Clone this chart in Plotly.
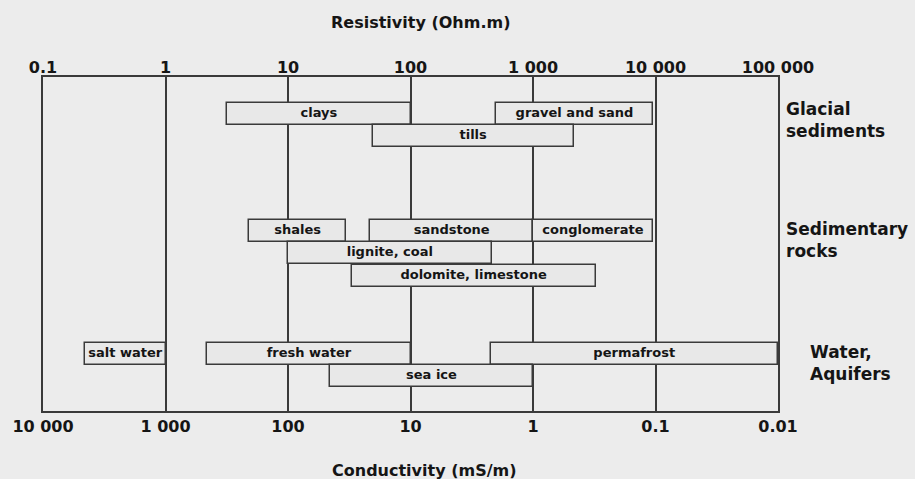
import numpy as np
import plotly.graph_objects as go

# ---------------- data ----------------
materials = ["clays", "gravel and sand", "tills",
             "shales", "sandstone", "conglomerate", "lignite, coal", "dolomite, limestone",
             "salt water", "fresh water", "permafrost", "sea ice"]
rho_min = [3.2, 500, 49, 4.8, 47, 1000, 10, 33, 0.22, 2.2, 450, 22]          # Ohm.m
rho_max = [100, 9500, 2150, 30, 1000, 9500, 460, 3250, 1, 100, 100000, 1000]  # Ohm.m
group = ["glacial", "glacial", "glacial",
         "sedimentary", "sedimentary", "sedimentary", "sedimentary", "sedimentary",
         "water", "water", "water", "water"]
row = [0, 0, 1, 0, 0, 0, 1, 2, 0, 0, 0, 1]

group_names = ["glacial", "sedimentary", "water"]
group_labels = ["Glacial<br>sediments", "Sedimentary<br>rocks", "Water,<br>Aquifers"]

res_ticks = [0.1, 1, 10, 100, 1000, 10000, 100000]
res_labels = ["0.1", "1", "10", "100", "1 000", "10 000", "100 000"]
cond_labels = ["10 000", "1 000", "100", "10", "1", "0.1", "0.01"]   # mS/m = 1000 / Ohm.m

# ---------------- layout helpers ----------------
group_top = {"glacial": 36.5, "sedimentary": 153.5, "water": 276.5}
group_label_y = {"glacial": 43, "sedimentary": 163, "water": 286}
group_label_dx = {"glacial": 6, "sedimentary": 6, "water": 30}
row_step = 22.5
bar_h = 22

lo = np.array(rho_min, dtype=float)
hi = np.array(rho_max, dtype=float)
ys = [group_top[g] + r * row_step for g, r in zip(group, row)]

FONT = "DejaVu Sans"
INK = "#151515"
LINE = "#3a3a3a"
BG = "#ececec"

fig = go.Figure()

fig.add_trace(go.Bar(
    orientation="h",
    y=ys,
    base=lo,
    x=hi - lo,
    width=bar_h,
    marker=dict(color="#e8e8e8", line=dict(color=LINE, width=1.5)),
    hoverinfo="skip",
    showlegend=False,
))

fig.add_trace(go.Scatter(
    x=np.sqrt(lo * hi),
    y=ys,
    mode="text",
    text=materials,
    textposition="middle center",
    textfont=dict(family=FONT, size=13, color=INK, weight="bold"),
    hoverinfo="skip",
    showlegend=False,
))

# invisible trace to anchor the top axis
fig.add_trace(go.Scatter(x=[1], y=[0], xaxis="x2", mode="markers",
                         marker=dict(opacity=0), hoverinfo="skip", showlegend=False))

annotations = []
for g, lab in zip(group_names, group_labels):
    annotations.append(dict(
        text=lab, xref="paper", x=1, xanchor="left", xshift=group_label_dx[g],
        yref="y", y=group_label_y[g], yanchor="middle", align="left",
        showarrow=False, font=dict(family=FONT, size=17, color=INK, weight="bold"),
    ))

annotations.append(dict(
    text="Resistivity (Ohm.m)", xref="paper", x=0.513, xanchor="center",
    yref="paper", y=1, yanchor="middle", yshift=55, showarrow=False,
    font=dict(family=FONT, size=16, color=INK, weight="bold"),
))
annotations.append(dict(
    text="Conductivity (mS/m)", xref="paper", x=0.518, xanchor="center",
    yref="paper", y=0, yanchor="middle", yshift=-59, showarrow=False,
    font=dict(family=FONT, size=16, color=INK, weight="bold"),
))

fig.update_layout(
    width=915, height=479,
    margin=dict(l=43, r=137, t=77, b=68),
    paper_bgcolor=BG, plot_bgcolor=BG,
    bargap=0,
    xaxis=dict(
        type="log", range=[-1, 5],
        tickvals=res_ticks, ticktext=cond_labels,
        showgrid=True, gridcolor=LINE, gridwidth=1.5,
        showline=True, linecolor=LINE, linewidth=2, mirror=True,
        ticks="", zeroline=False,
        tickfont=dict(family=FONT, size=16, color=INK, weight="bold"),
    ),
    xaxis2=dict(
        type="log", range=[-1, 5], overlaying="x", side="top",
        tickvals=res_ticks, ticktext=res_labels,
        showgrid=False, showline=False, ticks="", zeroline=False,
        tickfont=dict(family=FONT, size=16, color=INK, weight="bold"),
    ),
    yaxis=dict(
        range=[334, 0], showticklabels=False, showgrid=False, zeroline=False,
        showline=True, linecolor=LINE, linewidth=2, mirror=True, ticks="",
    ),
    annotations=annotations,
)

fig.write_html("out.html")
